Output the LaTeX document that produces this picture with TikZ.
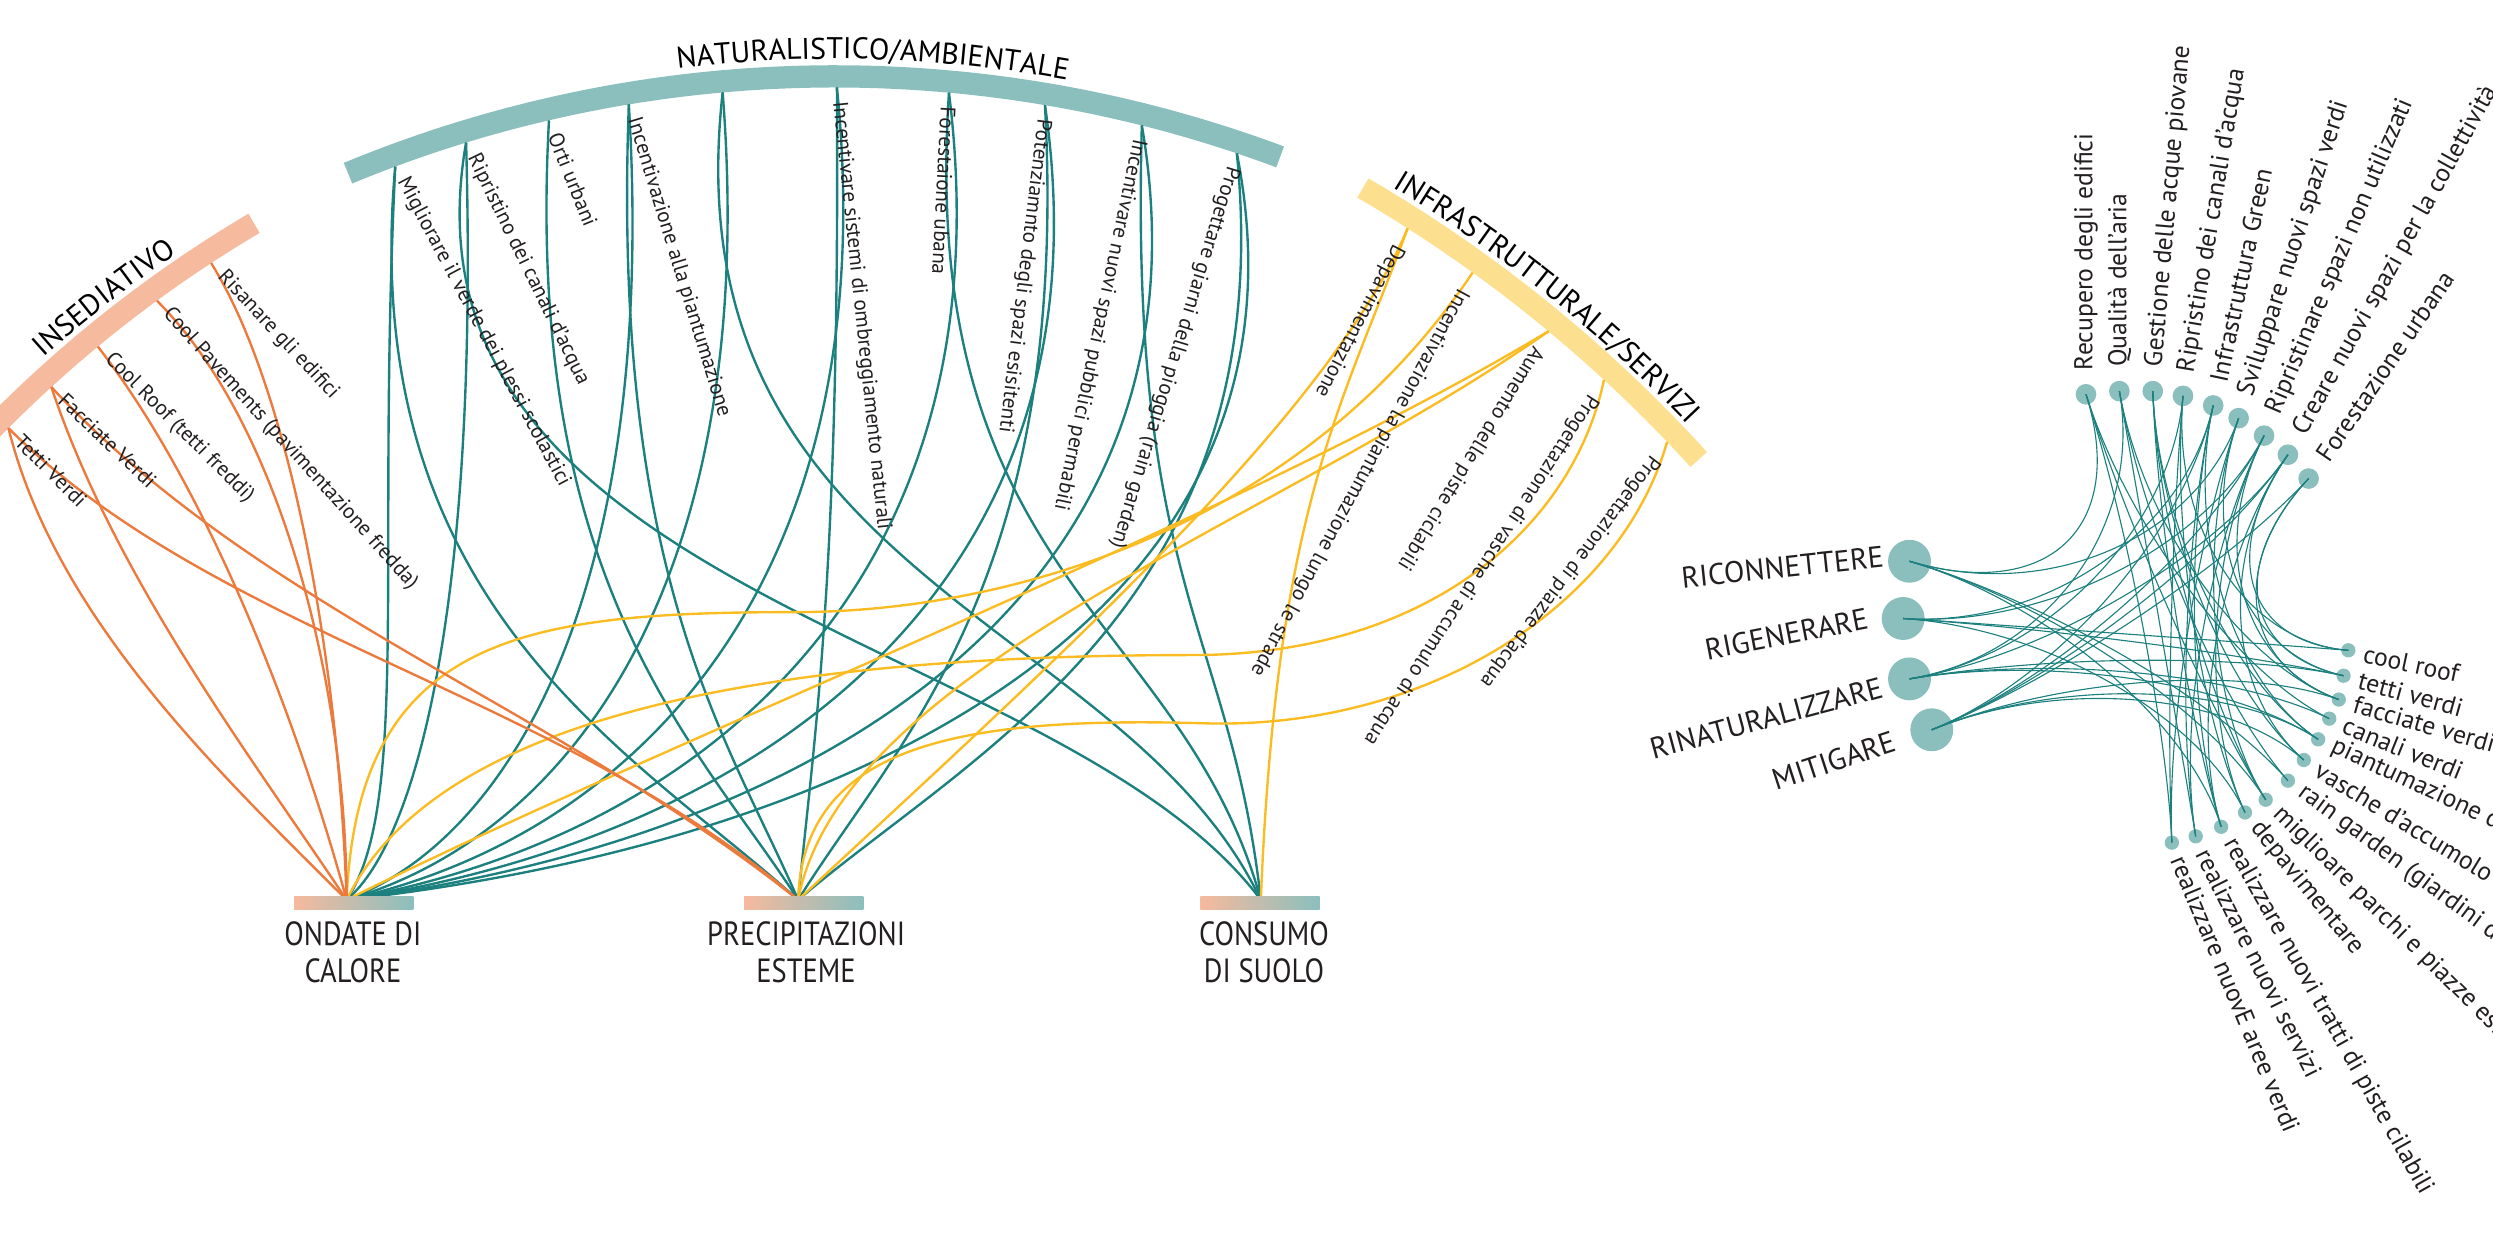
\documentclass[tikz,border=0pt]{standalone}
\usepackage{fontspec}
\setmainfont{PT Sans}
\newfontfamily\condfont[FakeStretch=0.85]{PT Sans}
\usetikzlibrary{calc,decorations.text}
\definecolor{orln}{HTML}{EC7A3C}
\definecolor{tlln}{HTML}{1B807E}
\definecolor{ylln}{HTML}{FBBC22}
\definecolor{orband}{HTML}{F6BA9E}
\definecolor{tlband}{HTML}{8BBFBE}
\definecolor{ylband}{HTML}{FDE08F}
\definecolor{txt}{HTML}{231F20}
\newcommand\ttlfont{\fontsize{10.7}{12}\selectfont}
\begin{document}
\begin{tikzpicture}[x=0.02cm,y=-0.02cm,
  orl/.style={draw=orln,line width=0.85pt},
  tll/.style={draw=tlln,line width=0.85pt},
  yll/.style={draw=ylln,line width=0.85pt},
  rl/.style={draw=tlln,line width=0.4pt},
  alab/.style={anchor=west,inner sep=0pt,inner xsep=5pt,text=txt,font=\fontsize{7.6}{9}\selectfont},
  flab/.style={anchor=west,inner sep=0pt,inner xsep=7pt,text=txt,font=\fontsize{7.6}{9}\selectfont},
  rlab/.style={anchor=west,inner sep=0pt,inner xsep=8.5pt,text=txt,font=\fontsize{9.2}{11}\selectfont},
  blab/.style={anchor=west,inner sep=0pt,inner xsep=5.5pt,text=txt,font=\fontsize{9.2}{11}\selectfont},
  biglab/.style={anchor=east,inner sep=0pt,text=txt,font=\fontsize{10.7}{12}\selectfont},
  catlab/.style={anchor=north,inner sep=0pt,align=center,text=txt,font=\condfont\fontsize{12}{13.6}\selectfont},
  barnd/.style={minimum width=1.5cm,minimum height=0.16cm,inner sep=0pt,left color=orband,middle color=ylband,right color=tlband},
  bignd/.style={circle,fill=tlband,minimum size=0.54cm,inner sep=0pt},
  topnd/.style={circle,fill=tlband,minimum size=0.26cm,inner sep=0pt},
  botnd/.style={circle,fill=tlband,minimum size=0.18cm,inner sep=0pt}
]
\useasboundingbox (0,0) rectangle (1568,781);
\clip (0,0) rectangle (1568,781);

% ---------------- category bands ----------------
\draw[orband,line width=0.28cm] plot[domain=120.6:139,samples=60] ({567+800*cos(\x)},{829-800*sin(\x)});
\draw[tlband,line width=0.28cm] plot[domain=69.5:112.5,samples=80] ({525+800*cos(\x)},{848-800*sin(\x)});
\draw[ylband,line width=0.28cm] plot[domain=42.3:59.8,samples=60] ({408+893*cos(\x)},{890-893*sin(\x)});

\path[decorate,decoration={text along path,text={|\ttlfont|INSEDIATIVO},text align=center}]
  plot[domain=0:24,samples=60] ({567+810*cos(140-\x)},{829-810*sin(140-\x)});
\path[decorate,decoration={text along path,text={|\ttlfont|NATURALISTICO/AMBIENTALE},text align=center}]
  plot[domain=0:40,samples=80] ({525+811*cos(108.3-\x)},{848-811*sin(108.3-\x)});
\path[decorate,decoration={text along path,text={|\ttlfont|INFRASTRUTTURALE/SERVIZI},text align=center}]
  plot[domain=0:24,samples=60] ({408+903*cos(63.2-\x)},{890-903*sin(63.2-\x)});

% ---------------- anchors ----------------
\coordinate (i1) at ({567+793*cos(135.1)},{829-793*sin(135.1)});
\coordinate (i2) at ({567+793*cos(132.4)},{829-793*sin(132.4)});
\coordinate (i3) at ({567+793*cos(129.6)},{829-793*sin(129.6)});
\coordinate (i4) at ({567+793*cos(126.2)},{829-793*sin(126.2)});
\coordinate (i5) at ({567+793*cos(123.2)},{829-793*sin(123.2)});

\coordinate (n1) at ({525+793*cos(110.4)},{848-793*sin(110.4)});
\coordinate (n2) at ({525+793*cos(107.0)},{848-793*sin(107.0)});
\coordinate (n3) at ({525+793*cos(103.1)},{848-793*sin(103.1)});
\coordinate (n4) at ({525+793*cos(99.4)},{848-793*sin(99.4)});
\coordinate (n5) at ({525+793*cos(95.1)},{848-793*sin(95.1)});
\coordinate (n6) at ({525+793*cos(89.9)},{848-793*sin(89.9)});
\coordinate (n7) at ({525+793*cos(84.8)},{848-793*sin(84.8)});
\coordinate (n8) at ({525+793*cos(80.4)},{848-793*sin(80.4)});
\coordinate (n9) at ({525+793*cos(75.9)},{848-793*sin(75.9)});
\coordinate (n10) at ({525+793*cos(71.4)},{848-793*sin(71.4)});

\coordinate (f1) at ({408+886*cos(57.4)},{890-886*sin(57.4)});
\coordinate (f2) at ({408+886*cos(54.2)},{890-886*sin(54.2)});
\coordinate (f3) at ({408+886*cos(50.3)},{890-886*sin(50.3)});
\coordinate (f4) at ({408+886*cos(47.3)},{890-886*sin(47.3)});
\coordinate (f5) at ({408+886*cos(43.7)},{890-886*sin(43.7)});

\coordinate (ond) at (218,566);
\coordinate (pre) at (502,566);
\coordinate (con) at (793,566);

% ---------------- teal links ----------------
\draw[tll] (n1) .. controls +(-12,250) and +(40,-60) .. (ond);
\draw[tll] (n2) .. controls +(8,286) and +(45,-38) .. (ond);
\draw[tll] (n4) .. controls +(18,300) and +(106,-40) .. (ond);
\draw[tll] (n5) .. controls +(24,305) and +(142,-41) .. (ond);
\draw[tll] (n6) .. controls +(31,307) and +(185,-41) .. (ond);
\draw[tll] (n7) .. controls +(38,305) and +(227,-41) .. (ond);
\draw[tll] (n8) .. controls +(44,300) and +(263,-40) .. (ond);
\draw[tll] (n9) .. controls +(50,292) and +(300,-39) .. (ond);
\draw[tll] (n10) .. controls +(56,282) and +(336,-38) .. (ond);
\draw[tll] (n1) .. controls +(-25,277) and +(-102,-92) .. (pre);
\draw[tll] (n3) .. controls +(-16,294) and +(-63,-98) .. (pre);
\draw[tll] (n4) .. controls +(-11,300) and +(-43,-100) .. (pre);
\draw[tll] (n6) .. controls +(2,307) and +(10,-102) .. (pre);
\draw[tll] (n8) .. controls +(16,300) and +(62,-100) .. (pre);
\draw[tll] (n10) .. controls +(28,282) and +(110,-94) .. (pre);
\draw[tll] (n2) .. controls +(-50,286) and +(-125,-167) .. (con);
\draw[tll] (n5) .. controls +(-34,305) and +(-85,-178) .. (con);
\draw[tll] (n7) .. controls +(-20,305) and +(-49,-178) .. (con);
\draw[tll] (n9) .. controls +(-8,292) and +(-19,-170) .. (con);

% ---------------- yellow links ----------------
\draw[yll] (f1) .. controls +(-40,110) and +(10,-250) .. (con);
\draw[yll] (f1) .. controls +(-50,120) and +(150,-140) .. (pre);
\draw[yll] (f2) .. controls +(-105,157) and +(140,0) .. (500,385) .. controls +(-170,0) and +(7,-166) .. (ond);
\draw[yll] (f3) .. controls +(-200,120) and +(200,-100) .. (ond);
\draw[yll] (f3) .. controls +(-174,122) and +(28,-146) .. (pre);
\draw[yll] (f4) .. controls +(-19,91) and +(150,0) .. (750,412) .. controls +(-300,0) and +(52,-106) .. (ond);
\draw[yll] (f5) .. controls +(-29,102) and +(140,3) .. (760,455) .. controls +(-160,-5) and +(3,-96) .. (pre);

% ---------------- orange links ----------------
\draw[orl] (i1) .. controls +(30,120) and +(-80,-80) .. (ond);
\draw[orl] (i2) .. controls +(40,120) and +(-60,-90) .. (ond);
\draw[orl] (i3) .. controls +(70,90) and +(-30,-110) .. (ond);
\draw[orl] (i4) .. controls +(80,80) and +(0,-130) .. (ond);
\draw[orl] (i5) .. controls +(50,80) and +(-5,-150) .. (ond);
\draw[orl] (i1) .. controls +(130,130) and +(-150,-130) .. (pre);
\draw[orl] (i2) .. controls +(130,140) and +(-150,-120) .. (pre);

% ---------------- bottom targets ----------------
\node[barnd] (ondbar) at (222.5,568) {};
\node[barnd] (prebar) at (505.5,568) {};
\node[barnd] (conbar) at (792.5,568) {};
\node[catlab] (ondl) at (222,579) {ONDATE DI\\CALORE};
\node[catlab] (prel) at (507,579) {PRECIPITAZIONI\\ESTEME};
\node[catlab] (conl) at (795,579) {CONSUMO\\DI SUOLO};

% ---------------- arc labels ----------------
\node[alab,rotate=-45] (i1l) at (i1) {Tetti Verdi};
\node[alab,rotate=-43.5] (i2l) at (i2) {Facciate Verdi};
\node[alab,rotate=-45] (i3l) at (i3) {Cool Roof (tetti freddi)};
\node[alab,rotate=-48] (i4l) at (i4) {Cool Pavements (pavimentazione fredda)};
\node[alab,rotate=-47] (i5l) at (i5) {Risanare gli edifici};

\node[alab,rotate=-62] (n1l) at (n1) {Migliorare il verde dei plessi scolastici};
\node[alab,rotate=-64] (n2l) at (n2) {Ripristino dei canali d'acqua};
\node[alab,rotate=-68] (n3l) at (n3) {Orti urbani};
\node[alab,rotate=-73] (n4l) at (n4) {Incentivazione alla piantumazione};
\node[alab,rotate=-84] (n6l) at (n6) {Incentivare sistemi di ombreggiamento naturali};
\node[alab,rotate=-93] (n7l) at (n7) {Forestaione ubana};
\node[alab,rotate=-97] (n8l) at (n8) {Potenziamnto degli spazi esisitenti};
\node[alab,rotate=-102] (n9l) at (n9) {Incentivare nuovi spazi pubblici permabili};
\node[alab,rotate=-107] (n10l) at (n10) {Progettare giarni della pioggia (rain garden)};

\node[flab,rotate=-117.6] (f1l) at (f1) {Depavimentazione};
\node[flab,rotate=-118.4] (f2l) at (f2) {Incentivazione la piantumazione lungo le strade};
\node[flab,rotate=-121.7] (f3l) at (f3) {Aumento delle piste ciclabili};
\node[flab,rotate=-123] (f4l) at (f4) {Progettazione di vasche di accumulo di acqua};
\node[flab,rotate=-127] (f5l) at (f5) {Progettazione di piazze d'acqua};

% ---------------- right cluster ----------------
\coordinate (hub) at (1360,400);
\node[bignd] (L1) at (1201,353) {};
\node[bignd] (L2) at (1197,389) {};
\node[bignd] (L3) at (1201,427) {};
\node[bignd] (L4) at (1215,459) {};

\node[topnd] (t1) at (1312,248) {};
\node[topnd] (t2) at (1333,246) {};
\node[topnd] (t3) at (1354,246) {};
\node[topnd] (t4) at (1373,249) {};
\node[topnd] (t5) at (1392,255) {};
\node[topnd] (t6) at (1408,263) {};
\node[topnd] (t7) at (1424,274) {};
\node[topnd] (t8) at (1439,286) {};
\node[topnd] (t9) at (1452,301) {};

\node[botnd] (b1) at (1477,409) {};
\node[botnd] (b2) at (1474,425) {};
\node[botnd] (b3) at (1471,440) {};
\node[botnd] (b4) at (1465,452) {};
\node[botnd] (b5) at (1458,465) {};
\node[botnd] (b6) at (1449,478) {};
\node[botnd] (b7) at (1439,491) {};
\node[botnd] (b8) at (1425,503) {};
\node[botnd] (b9) at (1412,511) {};
\node[botnd] (b10) at (1397,520) {};
\node[botnd] (b11) at (1381,526) {};
\node[botnd] (b12) at (1366,530) {};

\foreach \a/\b in {t1/b12,t1/b4,t1/b8,t2/b11,t2/b7,t2/b3,t3/b10,t3/b6,t3/b8,t3/b5,
  t4/b9,t4/b12,t4/b1,t5/b11,t5/b10,t5/b5,t6/b8,t6/b12,t6/b2,t7/b9,t7/b11,t7/b3,
  t8/b10,t8/b6,t8/b1,t9/b3,t9/b2,
  L1/t6,L1/t1,L2/t5,L2/t7,L3/t8,L3/t4,L3/t2,L4/t5,L4/t9,L4/t8,L4/t7,
  L1/b7,L1/b8,L1/b10,L2/b1,L2/b2,L2/b9,L3/b2,L3/b4,L3/b5,L4/b6,L4/b5,L4/b3}
  {\draw[rl] (\a.center) .. controls ($(\a.center)!0.55!(hub)$) and ($(\b.center)!0.55!(hub)$) .. (\b.center);}

\node[biglab,rotate=6] (L1l) at (1185,350) {RICONNETTERE};
\node[biglab,rotate=11] (L2l) at (1175,389) {RIGENERARE};
\node[biglab,rotate=15] (L3l) at (1184,432) {RINATURALIZZARE};
\node[biglab,rotate=18] (L4l) at (1192,466) {MITIGARE};

\node[rlab,rotate=90] (t1l) at (t1.center) {Recupero degli edifici};
\node[rlab,rotate=90] (t2l) at (t2.center) {Qualità dell'aria};
\node[rlab,rotate=85] (t3l) at (t3.center) {Gestione delle acque piovane};
\node[rlab,rotate=80.5] (t4l) at (t4.center) {Ripristino dei canali d'acqua};
\node[rlab,rotate=78] (t5l) at (t5.center) {Infrastruttura Green};
\node[rlab,rotate=72] (t6l) at (t6.center) {Sviluppare nuovi spazi verdi};
\node[rlab,rotate=67] (t7l) at (t7.center) {Ripristinare spazi non utilizzati};
\node[rlab,rotate=61] (t8l) at (t8.center) {Creare nuovi spazi per la collettività};
\node[rlab,rotate=55.6] (t9l) at (t9.center) {Forestazione urbana};

\node[blab,rotate=-12] (b1l) at (b1.center) {cool roof};
\node[blab,rotate=-15.5] (b2l) at (b2.center) {tetti verdi};
\node[blab,rotate=-16] (b3l) at (b3.center) {facciate verdi};
\node[blab,rotate=-22] (b4l) at (b4.center) {canali verdi};
\node[blab,rotate=-25] (b5l) at (b5.center) {piantumazione diffusa};
\node[blab,rotate=-31.5] (b6l) at (b6.center) {vasche d'accumolo};
\node[blab,rotate=-36.6] (b7l) at (b7.center) {rain garden (giardini della pioggia)};
\node[blab,rotate=-44.6] (b8l) at (b8.center) {miglioare parchi e piazze esistenti};
\node[blab,rotate=-50.7] (b9l) at (b9.center) {depavimentare};
\node[blab,rotate=-60.7] (b10l) at (b10.center) {realizzare nuovi tratti di piste cilabili};
\node[blab,rotate=-63.5] (b11l) at (b11.center) {realizzare nuovi servizi};
\node[blab,rotate=-67.3] (b12l) at (b12.center) {realizzare nuovE aree verdi};
\end{tikzpicture}
\end{document}
